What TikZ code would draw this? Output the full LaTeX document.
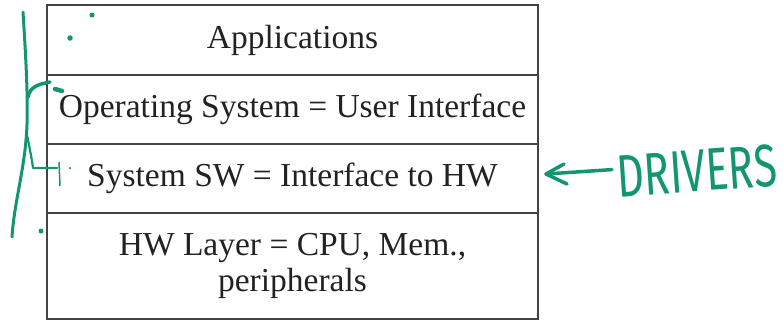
\documentclass[tikz,border=0pt]{standalone}
\usepackage{fontspec}
\usepackage{graphicx}
\setmainfont{Liberation Serif}
\newfontfamily\handfont{Fira Sans}
\definecolor{ink}{RGB}{34,34,34}
\definecolor{pen}{RGB}{18,150,112}
\tikzset{
  layer/.style={draw=ink!85, line width=1.2pt, minimum width=491pt, inner sep=0pt,
    outer sep=0pt, align=center, text=ink, anchor=north west,
    font=\fontsize{33.5}{36}\selectfont},
  penline/.style={draw=pen, line width=3pt, line cap=round, line join=round},
  pendot/.style={fill=pen, circle, inner sep=0pt, minimum size=5pt},
}
\begin{document}
\begin{tikzpicture}[x=1pt,y=-1pt]
\useasboundingbox (0,0) rectangle (783,322);

% layer stack
\node[layer, minimum height=70pt]  (apps) at (47,5) {Applications};
\node[layer, minimum height=69pt]  (os)   at (apps.south west) {Operating System = User Interface};
\node[layer, minimum height=69pt]  (sw)   at (os.south west) {System SW = Interface to HW};
\node[layer, minimum height=106pt] (hw)   at (sw.south west) {HW Layer = CPU, Mem.,\\peripherals};

% hand-drawn brace on the left
\draw[penline] (23,12) .. controls (26,60) and (29,110) .. (26,140)
               .. controls (23,175) and (14,205) .. (12,237);
\draw[penline, line width=3.5pt] (28,97) .. controls (30,86) and (40,84) .. (50,82);
\draw[pen, line width=4.5pt, line cap=round] (55,89) -- (62,91);
\draw[penline, line width=2.2pt] (27,135) .. controls (30,150) and (32,160) .. (33,168) -- (57,168);
\draw[pen, line width=1.5pt] (59,162) -- (60,186);

% stray pen dots
\node[pendot] (d1) at (92,15) {};
\node[pendot, minimum size=5.5pt] (d2) at (70,38) {};
\node[pendot] (d3) at (41,231) {};
\node[pendot, minimum size=2.5pt] (d4) at (70,168) {};

% drivers note with its arrow pointing at the system layer
\node[text=pen, rotate=4, inner sep=0pt] (drivers) at (697,171)
  {\resizebox{160pt}{42pt}{\handfont DRIVERS}};
\coordinate (tip) at ([xshift=8pt,yshift=4.5pt]sw.east);
\draw[penline, line width=3.5pt] ([xshift=-5pt,yshift=7pt]drivers.west) -- (tip);
\draw[penline, line width=3.5pt] ([xshift=21pt,yshift=-10pt]tip) -- (tip) -- ([xshift=18pt,yshift=10pt]tip);
\end{tikzpicture}
\end{document}
